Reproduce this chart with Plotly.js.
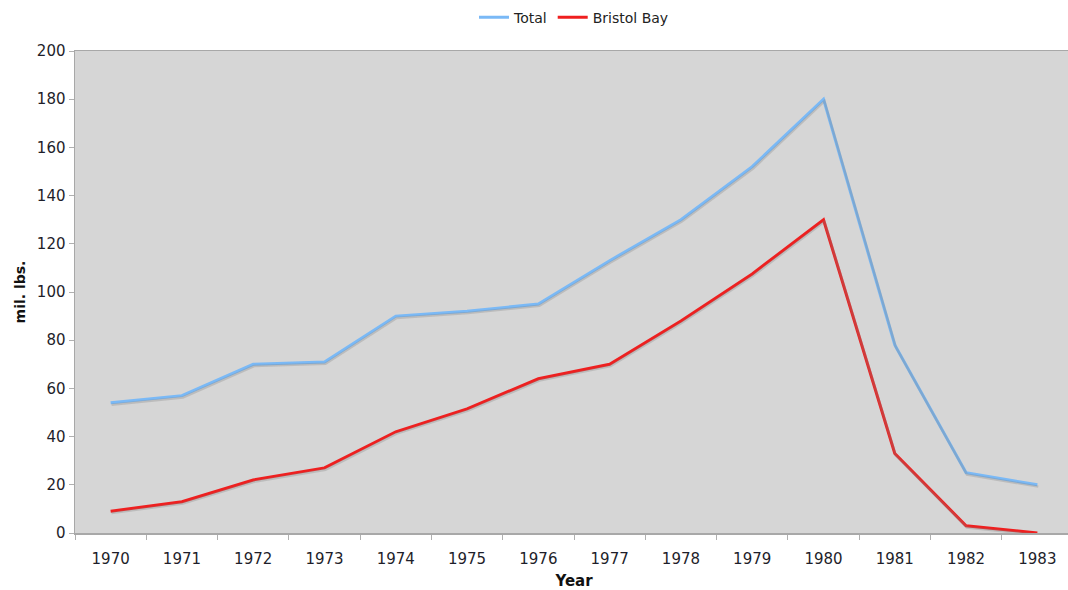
<!DOCTYPE html>
<html>
<head>
<meta charset="utf-8">
<script src="https://cdn.plot.ly/plotly-3.0.1.min.js"></script>
<style>
html,body{margin:0;padding:0;overflow:hidden;background:#fff;}
#chart{width:1080px;height:590px;}
</style>
</head>
<body>
<div id="chart"></div>
<script>
const years = ['1970','1971','1972','1973','1974','1975','1976','1977','1978','1979','1980','1981','1982','1983'];
const total = [54, 57, 70, 71, 90, 92, 95, 113, 130, 152, 180, 78, 25, 20];
const bristolBay = [9, 13, 22, 27, 42, 51.5, 64, 70, 88, 107.5, 130, 33, 3, 0];
const yTicks = [0, 20, 40, 60, 80, 100, 120, 140, 160, 180, 200];

const shadowColor = 'rgba(130,130,130,0.3)';
const traces = [
  {x: years, y: total, type: 'scatter', mode: 'lines', xaxis: 'x2', yaxis: 'y2',
   line: {color: shadowColor, width: 2.5}, showlegend: false, hoverinfo: 'skip'},
  {x: years, y: bristolBay, type: 'scatter', mode: 'lines', xaxis: 'x2', yaxis: 'y2',
   line: {color: shadowColor, width: 2.5}, showlegend: false, hoverinfo: 'skip'},
  {x: years, y: total, type: 'scatter', mode: 'lines', name: 'Total',
   line: {color: '#7ab9f6', width: 3}},
  {x: years, y: bristolBay, type: 'scatter', mode: 'lines', name: 'Bristol Bay',
   line: {color: '#ef1f1f', width: 3}}
];

const fam = 'DejaVu Sans, Verdana, sans-serif';
const tickFont = {family: fam, size: 15, color: '#1e1e2a'};
const layout = {
  width: 1080, height: 590,
  margin: {l: 75, r: 7, t: 51, b: 57},
  paper_bgcolor: '#ffffff',
  plot_bgcolor: '#d6d6d6',
  font: {family: fam},
  showlegend: true,
  legend: {orientation: 'h', x: 0.5, xanchor: 'center', yref: 'container', y: 0.997, yanchor: 'top',
           font: {family: fam, size: 14, color: '#222'},
           itemwidth: 30, traceorder: 'normal'},
  xaxis: {type: 'category', categoryorder: 'array', categoryarray: years,
          range: [-0.5, 13.5], tickson: 'boundaries', ticks: 'outside', ticklen: 5,
          tickcolor: '#b0b0b0', showline: true, linecolor: '#a8a8a8', linewidth: 1.5, mirror: true,
          showgrid: false, zeroline: false, tickfont: tickFont, ticklabelstandoff: 11,
          title: {text: 'Year', font: {family: fam, size: 15, color: '#111', weight: 'bold'}, standoff: 11}},
  yaxis: {range: [0, 200], tickvals: yTicks, ticks: 'outside', ticklen: 5, tickcolor: '#b0b0b0',
          showline: true, linecolor: '#a8a8a8', linewidth: 1.5, mirror: true,
          showgrid: false, zeroline: false, tickfont: tickFont,
          title: {text: 'mil. lbs.', font: {family: fam, size: 14, color: '#111', weight: 'bold'}, standoff: 8}},
  xaxis2: {type: 'category', categoryorder: 'array', categoryarray: years, overlaying: 'x',
           range: [-0.513, 13.487], visible: false},
  yaxis2: {range: [0.75, 200.75], overlaying: 'y', visible: false}
};

Plotly.newPlot('chart', traces, layout, {displayModeBar: false, staticPlot: true});
</script>
</body>
</html>
